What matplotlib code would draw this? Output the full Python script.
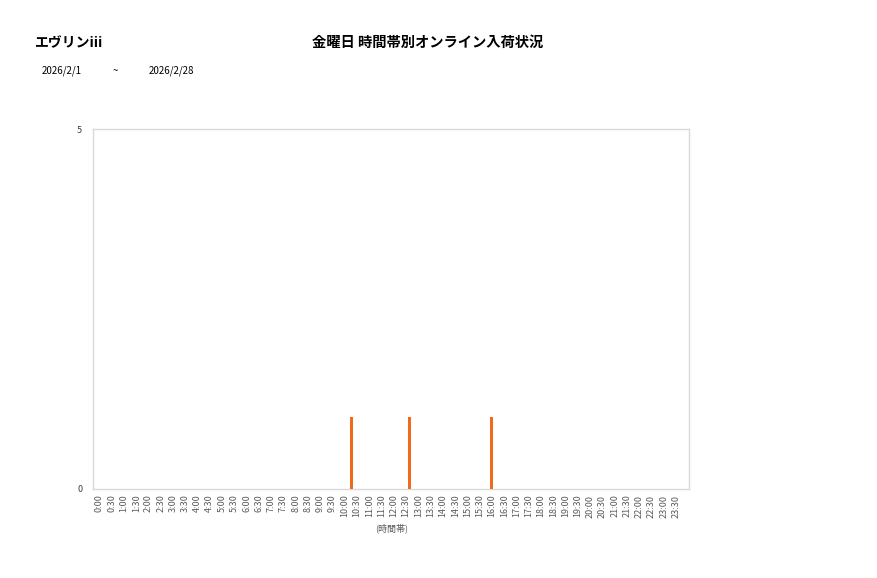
import matplotlib
matplotlib.use("Agg")
import matplotlib.pyplot as plt

plt.rcParams['font.family'] = ['Noto Sans CJK JP', 'DejaVu Sans']

# Data
slot_labels = [f"{h}:{m:02d}" for h in range(24) for m in (0, 30)]
arrival_times = ["10:16", "12:39", "15:58"]
arrival_counts = [1, 1, 1]
y_ticks = [0, 5]

store_name = "エヴリンiii"
chart_title = "金曜日 時間帯別オンライン入荷状況"
date_from = "2026/2/1"
date_to = "2026/2/28"
x_label = "(時間帯)"

def to_slot(t):
    h, m = t.split(":")
    return (int(h) * 60 + int(m)) / 30.0

fig = plt.figure(figsize=(8.77, 5.78), dpi=100)
ax = fig.add_axes([0.1064, 0.154, 0.6792, 0.6228])

xs = [to_slot(t) for t in arrival_times]
ax.bar(xs, arrival_counts, width=0.25, color="#F06A1A", zorder=3)

ax.set_xlim(-0.5, 48.05)
ax.set_ylim(0, 5)
ax.set_xticks(range(len(slot_labels)))
ax.set_xticklabels(slot_labels, rotation=90, fontsize=6.5, color="#595959")
ax.set_yticks(y_ticks)
ax.set_yticklabels([str(v) for v in y_ticks], fontsize=6.5, color="#404040")
ax.tick_params(axis='x', length=0, pad=4)
ax.tick_params(axis='y', length=0, pad=8)
for s in ax.spines.values():
    s.set_color("#D9D9D9")
    s.set_linewidth(1)

ax.set_xlabel(x_label, fontsize=6.5, color="#595959", labelpad=4)

fig.text(35 / 877, 1 - 43 / 578, store_name, fontsize=10, fontweight="bold", va="center", ha="left")
fig.text(428 / 877, 1 - 43 / 578, chart_title, fontsize=10.3, fontweight="bold", va="center", ha="center")
fig.text(42 / 877, 1 - 71 / 578, date_from, fontsize=7, va="center", ha="left")
fig.text(113 / 877, 1 - 71 / 578, "~", fontsize=7, va="center", ha="left")
fig.text(149 / 877, 1 - 71 / 578, date_to, fontsize=7, va="center", ha="left")

fig.savefig("out.png", dpi=100)
